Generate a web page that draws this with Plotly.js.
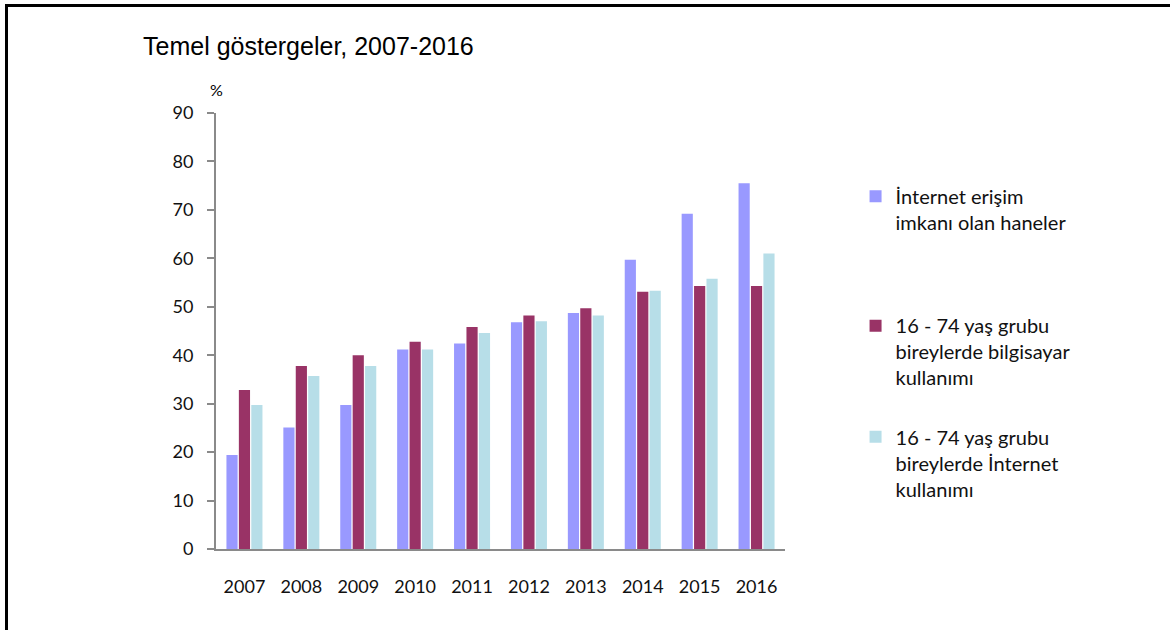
<!DOCTYPE html>
<html>
<head>
<meta charset="utf-8">
<script src="https://cdn.plot.ly/plotly-3.0.1.min.js"></script>
<style>
  html, body { margin: 0; padding: 0; background: #fff; }
  #wrap { position: relative; width: 1170px; height: 630px; overflow: hidden; }
  #frame { position: absolute; left: 5px; top: 4px; width: 1200px; height: 700px;
           border-top: 3px solid #000; border-left: 3px solid #000; pointer-events: none; z-index: 5; }
  #chart { position: absolute; left: 0; top: 0; width: 1170px; height: 630px; }
</style>
</head>
<body>
<div id="wrap">
  <div id="chart"></div>
  <div id="frame"></div>
</div>
<script>
const years = ['2007','2008','2009','2010','2011','2012','2013','2014','2015','2016'];
const haneErisim = [19.4, 25.1, 29.7, 41.2, 42.4, 46.8, 48.7, 59.7, 69.2, 75.5];
const bilgisayarKullanimi = [32.8, 37.8, 40.0, 42.8, 45.8, 48.2, 49.7, 53.1, 54.3, 54.3];
const internetKullanimi = [29.7, 35.7, 37.8, 41.2, 44.6, 47.0, 48.2, 53.3, 55.8, 61.0];
const seriesNames = [
  'İnternet erişim<br>imkanı olan haneler',
  '16 - 74 yaş grubu<br>bireylerde bilgisayar<br>kullanımı',
  '16 - 74 yaş grubu<br>bireylerde İnternet<br>kullanımı'
];
const yTicks = [0,10,20,30,40,50,60,70,80,90];

const colors = ['#9999FF', '#993366', '#B7DEE8'];
const txtFont = 'Lato, "Open Sans", sans-serif';

const traces = [haneErisim, bilgisayarKullanimi, internetKullanimi].map((vals, i) => ({
  type: 'bar',
  x: years,
  y: vals,
  name: seriesNames[i],
  marker: { color: colors[i] },
  legend: i === 0 ? 'legend' : 'legend' + (i + 1),
  hoverinfo: 'y+name'
}));

const legendBase = {
  xref: 'paper', yref: 'paper', xanchor: 'left', yanchor: 'top',
  x: 1.124, bgcolor: 'rgba(0,0,0,0)', borderwidth: 0,
  font: { family: txtFont, size: 20, color: '#111' },
  valign: 'top', itemwidth: 30, itemclick: false, itemdoubleclick: false
};

const layout = {
  width: 1170, height: 630,
  paper_bgcolor: 'rgba(0,0,0,0)', plot_bgcolor: 'rgba(0,0,0,0)',
  margin: { l: 216, r: 385, t: 113, b: 81, pad: 0 },
  title: {
    text: 'Temel göstergeler, 2007-2016',
    xref: 'container', yref: 'container',
    x: 143 / 1170, xanchor: 'left',
    y: 1 - 46 / 630, yanchor: 'middle',
    font: { family: '"Liberation Sans", Arial, sans-serif', size: 25, color: '#000' }
  },
  barmode: 'group',
  bargap: 0.345,
  bargroupgap: 0.1,
  showlegend: true,
  legend: Object.assign({}, legendBase, { y: 0.854 }),
  legend2: Object.assign({}, legendBase, { y: 0.557 }),
  legend3: Object.assign({}, legendBase, { y: 0.302 }),
  xaxis: {
    type: 'category',
    showline: true, linecolor: '#8a8a8a', linewidth: 2,
    ticks: '', showgrid: false, zeroline: false,
    tickfont: { family: txtFont, size: 18, color: '#111' },
    ticklabelstandoff: 20
  },
  yaxis: {
    range: [0, 90],
    tickvals: yTicks,
    ticktext: yTicks.map(String),
    showline: true, linecolor: '#8a8a8a', linewidth: 2,
    ticks: 'outside', ticklen: 7, tickcolor: '#8a8a8a', tickwidth: 2,
    showgrid: false, zeroline: false,
    tickfont: { family: txtFont, size: 18, color: '#111' },
    ticklabelstandoff: 10
  },
  annotations: [{
    text: '%', xref: 'paper', yref: 'paper', x: 0, y: 1.053,
    xanchor: 'center', yanchor: 'middle', showarrow: false,
    font: { family: txtFont, size: 16, color: '#000' }
  }]
};

Plotly.newPlot('chart', traces, layout, { displayModeBar: false, staticPlot: true });
</script>
</body>
</html>
